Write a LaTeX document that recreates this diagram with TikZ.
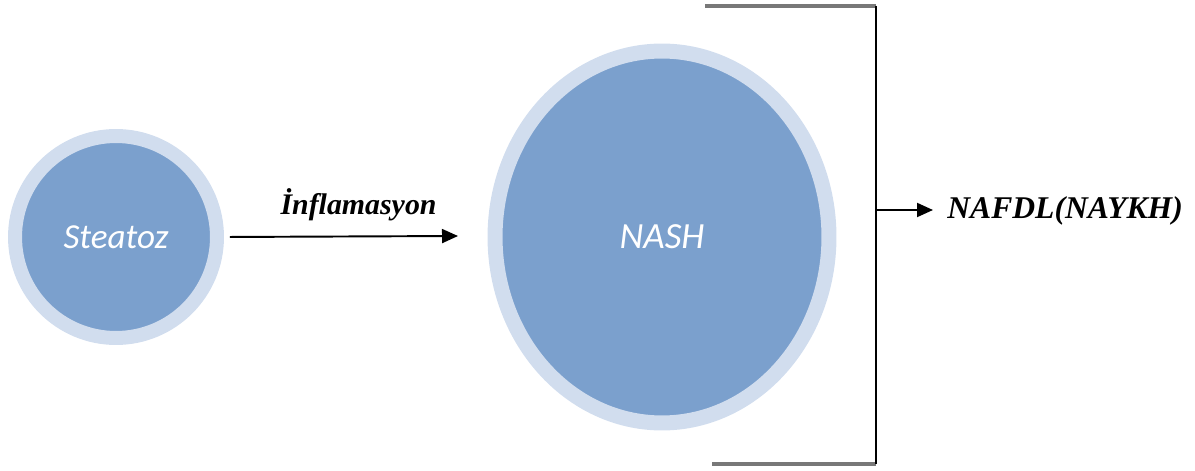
\documentclass[tikz,border=0pt]{standalone}
\usepackage{fontspec}
\setmainfont{Liberation Serif}
\newfontfamily\calibrifont{Carlito}
\usetikzlibrary{shapes.geometric,arrows.meta}

\definecolor{ringblue}{RGB}{209,221,238}
\definecolor{fillblue}{RGB}{123,160,205}
\definecolor{barline}{RGB}{120,120,120}

\tikzset{
  stage/.style={fill=fillblue,draw=ringblue,inner sep=0pt,text=white,
    font=\calibrifont\itshape},
  arr/.style={-{Triangle[length=0.32cm,width=0.28cm]},line width=1.1pt},
  steplabel/.style={font=\bfseries\itshape,inner sep=0pt}
}

\begin{document}
\begin{tikzpicture}[x=0.02cm,y=0.02cm]
    %\draw[help lines] (0,0) grid (1195,470);
    \useasboundingbox (0,0) rectangle (1195,470);
       \node[stage,circle,line width=0.28cm,minimum size=4.04cm,
             font=\calibrifont\itshape\fontsize{20}{24}\selectfont] (steatoz) at (116,233) {Steatoz};
       \node[stage,ellipse,line width=0.3cm,minimum width=6.68cm,minimum height=7.44cm,
             font=\calibrifont\itshape\fontsize{21}{25}\selectfont] (nash) at (662,233) {NASH};
       \coordinate (inflend) at (458,234);
       \draw[arr,shorten <=0.12cm] (steatoz.east) -- (inflend)
          node[steplabel,pos=0.575,above=0.3cm,font=\bfseries\itshape\fontsize{17}{20}\selectfont] (infl) {İnflamasyon};
       % bracket
       \coordinate (brtop) at (876,464);
       \coordinate (brbot) at (876,6);
       \draw[barline,line width=2.2pt] (705,464) -- (brtop);
       \draw[barline,line width=2.2pt] (712,6) -- (brbot);
       \draw[line width=1.2pt] (brtop) -- (brbot);
       \node[steplabel,anchor=west,font=\bfseries\itshape\fontsize{18}{22}\selectfont] (nafdl) at (947,259) {NAFDL(NAYKH)};
       \coordinate (brmid) at (876,260);
       \draw[arr,shorten >=0.28cm] (brmid) -- (nafdl.west |- brmid);
\end{tikzpicture}
\end{document}
